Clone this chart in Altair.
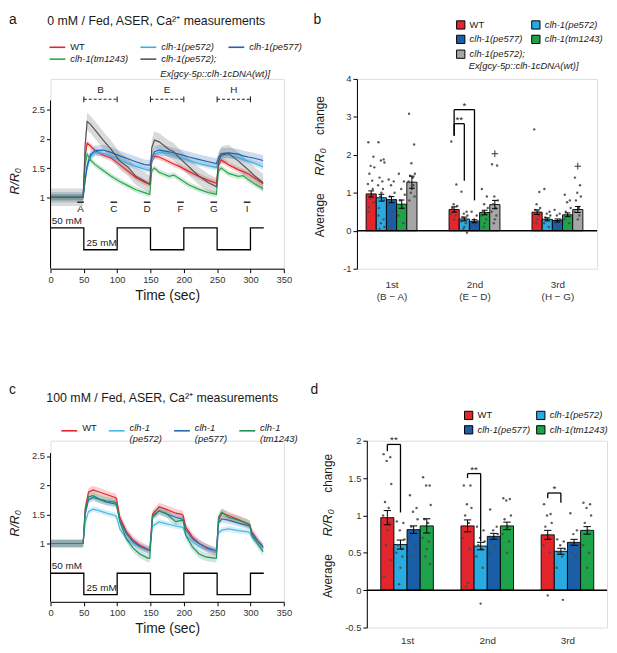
import json
import altair as alt
import pandas as pd

FONT = "Liberation Sans"
INK = "#1a1a1a"
LAB = "#333333"

# ======================= DATA =======================
TITLE_A = "0 mM / Fed, ASER, Ca²⁺ measurements"
TITLE_C = "100 mM / Fed, ASER, Ca²⁺ measurements"
RESCUE_LINE2 = "Ex[gcy-5p::clh-1cDNA(wt)]"
BAR_YTITLE = ["Average", "R/R₀", "change"]

# ---- panel a : 0 mM traces (R/R0) ----
A_SERIES = ["WT", "clh-1(pe572)", "clh-1(pe577)", "clh-1(tm1243)", "clh-1(pe572);"]
A_COLORS = ["#e3262b", "#3aaee3", "#1f62b0", "#2aa64c", "#555555"]
A_SEM = [0.05, 0.05, 0.09, 0.05, 0.15]
A_TIME = [0, 15, 30, 45, 49, 52, 55, 60, 67, 79, 91, 104, 116, 128, 141, 149, 152, 156, 163, 178,
          185, 193, 208, 222, 237, 249, 252, 256, 267, 282, 289, 297, 306, 319]
A_WT = [1.0, 1.0, 1.0, 1.0, 1.0, 1.70, 1.93, 1.88, 1.80, 1.72, 1.67, 1.56, 1.45, 1.34, 1.26, 1.22, 1.62,
        1.70, 1.69, 1.61, 1.57, 1.53, 1.44, 1.36, 1.29, 1.24, 1.55, 1.64, 1.56, 1.47, 1.44, 1.40, 1.33, 1.23]
A_PE572 = [1.0, 1.0, 1.0, 1.0, 1.0, 1.30, 1.50, 1.70, 1.77, 1.75, 1.71, 1.64, 1.58, 1.53, 1.48, 1.46, 1.62,
           1.74, 1.77, 1.75, 1.72, 1.69, 1.63, 1.58, 1.54, 1.51, 1.62, 1.71, 1.73, 1.68, 1.65, 1.62, 1.58, 1.52]
A_PE577 = [1.0, 1.0, 1.0, 1.0, 1.0, 1.30, 1.55, 1.73, 1.80, 1.81, 1.77, 1.71, 1.66, 1.61, 1.56, 1.55, 1.68,
           1.78, 1.81, 1.78, 1.76, 1.74, 1.69, 1.65, 1.61, 1.58, 1.68, 1.75, 1.76, 1.74, 1.71, 1.69, 1.67, 1.63]
A_TM1243 = [1.0, 1.0, 1.0, 1.0, 1.0, 1.55, 1.74, 1.64, 1.56, 1.46, 1.36, 1.27, 1.20, 1.13, 1.08, 1.05, 1.46,
            1.50, 1.43, 1.36, 1.38, 1.32, 1.21, 1.14, 1.08, 1.05, 1.45, 1.50, 1.41, 1.36, 1.37, 1.30, 1.23, 1.15]
A_RESCUE = [1.0, 1.0, 1.0, 1.0, 1.0, 1.90, 2.30, 2.25, 2.15, 1.98, 1.82, 1.62, 1.52, 1.36, 1.28, 1.22, 1.85,
            1.98, 1.95, 1.82, 1.78, 1.68, 1.52, 1.37, 1.25, 1.18, 1.60, 1.72, 1.75, 1.62, 1.55, 1.47, 1.37, 1.25]
A_VALUES = [A_WT, A_PE572, A_PE577, A_TM1243, A_RESCUE]

# ---- panel c : 100 mM traces (R/R0) ----
C_SERIES = ["WT", "clh-1|(pe572)", "clh-1|(pe577)", "clh-1|(tm1243)"]
C_COLORS = ["#e3262b", "#4db7e8", "#2a6cb0", "#23915a"]
C_SEM = [0.07, 0.05, 0.06, 0.07]
C_TIME = [0, 15, 30, 45, 49, 52, 57, 64, 74, 84, 97, 99, 104, 114, 124, 134, 146, 149, 153, 163,
          173, 188, 197, 199, 203, 213, 223, 233, 245, 249, 252, 257, 267, 282, 296, 299, 302, 312, 319]
C_WT = [1.0, 1.0, 1.0, 1.0, 1.0, 1.60, 1.88, 1.92, 1.88, 1.84, 1.79, 1.77, 1.45, 1.20, 1.06, 0.97, 0.90,
        0.89, 1.50, 1.63, 1.59, 1.52, 1.50, 1.48, 1.28, 1.11, 1.00, 0.93, 0.86, 0.85, 1.40, 1.52, 1.48,
        1.41, 1.34, 1.32, 1.20, 1.03, 0.93]
C_PE572 = [1.0, 1.0, 1.0, 1.0, 1.0, 1.35, 1.55, 1.59, 1.56, 1.52, 1.48, 1.46, 1.25, 1.08, 1.00, 0.94, 0.89,
           0.88, 1.30, 1.37, 1.34, 1.30, 1.28, 1.27, 1.14, 1.03, 0.95, 0.90, 0.86, 0.85, 1.18, 1.23, 1.25,
           1.22, 1.20, 1.19, 1.11, 1.00, 0.92]
C_PE577 = [1.0, 1.0, 1.0, 1.0, 1.0, 1.50, 1.75, 1.79, 1.75, 1.71, 1.68, 1.66, 1.40, 1.17, 1.03, 0.95, 0.89,
           0.88, 1.45, 1.56, 1.51, 1.45, 1.42, 1.41, 1.23, 1.08, 1.00, 0.94, 0.89, 0.88, 1.35, 1.42, 1.40,
           1.35, 1.31, 1.30, 1.17, 1.03, 0.94]
C_TM1243 = [1.0, 1.0, 1.0, 1.0, 1.0, 1.55, 1.80, 1.82, 1.76, 1.73, 1.71, 1.69, 1.37, 1.08, 0.92, 0.82, 0.75,
            0.75, 1.48, 1.56, 1.52, 1.37, 1.40, 1.39, 1.14, 0.94, 0.82, 0.77, 0.75, 0.75, 1.45, 1.54, 1.45,
            1.40, 1.34, 1.32, 1.14, 0.97, 0.86]
C_VALUES = [C_WT, C_PE572, C_PE577, C_TM1243]

# ---- stimulus (mM NaCl) ----
STIM_TIME = [0, 50, 100, 150, 200, 250, 300, 320]
STIM_MM = [50, 25, 50, 25, 50, 25, 50, 50]

# ---- analysis windows of panel a ----
WIN_LABEL = ["A", "C", "D", "F", "G", "I"]
WIN_START = [40, 90, 140, 190, 240, 290]
WIN_END = [50, 100, 150, 200, 250, 300]
PEAK_LABEL = ["B", "E", "H"]
PEAK_START = [50, 150, 250]
PEAK_END = [100, 200, 300]

# ---- panel b : average R/R0 change, 0 mM ----
B_SERIES = ["WT", "clh-1(pe572)", "clh-1(pe577)", "clh-1(tm1243)", "clh-1(pe572);"]
B_COLORS = ["#e3262b", "#29abe2", "#1b5ea8", "#1fa34a", "#a6a6a6"]
B_GROUPS = ["1st|(B − A)", "2nd|(E − D)", "3rd|(H − G)"]
B_MEAN = [[0.97, 0.56, 0.49], [0.87, 0.31, 0.30], [0.82, 0.25, 0.27], [0.70, 0.48, 0.42], [1.28, 0.69, 0.56]]
B_SEM = [[0.08, 0.07, 0.06], [0.09, 0.05, 0.04], [0.08, 0.04, 0.04], [0.11, 0.06, 0.05], [0.16, 0.11, 0.08]]
B_DOTS = [
    [[2.33, 1.95, 1.71, 1.67, 1.50, 1.32, 1.23, 1.10, 0.97, 0.85, 0.75, 0.62, 0.50],
     [2.35, 1.22, 0.70, 0.65, 0.60, 0.52, 0.45, 0.40, 0.30],
     [2.67, 1.02, 0.70, 0.60, 0.55, 0.50, 0.45, 0.40, 0.30, 0.20]],
    [[2.33, 1.88, 1.85, 1.80, 1.40, 1.30, 1.20, 1.10, 1.00, 0.90, 0.80, 0.60, 0.40, 0.30, 0.20, 0.10, 0.05],
     [1.03, 0.50, 0.45, 0.40, 0.35, 0.30, 0.25, 0.20, 0.10, 0.05, -0.05],
     [1.10, 0.50, 0.45, 0.40, 0.35, 0.30, 0.20, 0.10]],
    [[1.35, 1.30, 1.20, 1.00, 0.90, 0.80, 0.70, 0.50, 0.30, 0.10],
     [0.50, 0.40, 0.30, 0.25, 0.20, 0.15, 0.10],
     [0.55, 0.45, 0.40, 0.30, 0.20, 0.10]],
    [[1.50, 1.30, 1.10, 0.95, 0.80, 0.60, 0.40, 0.20],
     [1.10, 0.90, 0.70, 0.60, 0.50, 0.45, 0.40, 0.30, 0.20, 0.10],
     [0.95, 0.80, 0.75, 0.60, 0.50, 0.40, 0.30, 0.20]],
    [[3.08, 2.27, 1.78, 1.50, 1.45, 1.40, 1.30, 1.20, 1.10, 1.00, 0.90, 0.80],
     [1.75, 1.72, 0.90, 0.80, 0.70, 0.60, 0.50, 0.40, 0.30, 0.20],
     [1.40, 1.20, 1.00, 0.90, 0.80, 0.60, 0.50, 0.40, 0.30]],
]
B_PLUS = [(4, 1, 2.03), (4, 2, 1.70)]            # (series, group, value) outliers drawn as "+"
B_SIG = [(1, 0, 1, 2.82, 2.50, 1.32, "**"),      # (group, from, to, top, left end, right end, label)
         (1, 0, 2, 3.19, 2.50, 0.80, "*")]

# ---- panel d : average R/R0 change, 100 mM ----
D_SERIES = ["WT", "clh-1(pe572)", "clh-1(pe577)", "clh-1(tm1243)"]
D_COLORS = ["#e3262b", "#29abe2", "#1b5ea8", "#1fa34a"]
D_GROUPS = ["1st", "2nd", "3rd"]
D_MEAN = [[0.97, 0.86, 0.74], [0.61, 0.59, 0.52], [0.81, 0.72, 0.64], [0.86, 0.86, 0.80]]
D_SEM = [[0.095, 0.08, 0.06], [0.06, 0.05, 0.04], [0.05, 0.04, 0.04], [0.095, 0.05, 0.05]]
D_DOTS = [
    [[1.82, 1.78, 1.73, 1.42, 1.18, 1.10, 1.00, 0.90, 0.80, 0.60, 0.40, 0.18],
     [1.40, 1.40, 1.15, 1.10, 1.00, 0.90, 0.70, 0.55, 0.10, 0.05],
     [1.15, 1.02, 1.00, 0.90, 0.85, 0.70, 0.60, 0.50, -0.07]],
    [[0.92, 0.90, 0.80, 0.68, 0.60, 0.55, 0.50, 0.45, 0.30, 0.08],
     [0.85, 0.80, 0.70, 0.65, 0.60, 0.55, 0.45, 0.30, -0.18],
     [0.68, 0.65, 0.60, 0.55, 0.50, 0.45, 0.30, -0.13]],
    [[1.27, 1.10, 1.05, 0.95, 0.85, 0.80, 0.70, 0.60, 0.45],
     [1.08, 0.85, 0.80, 0.75, 0.70, 0.60, 0.50],
     [1.03, 0.80, 0.75, 0.60, 0.50, 0.45, 0.30]],
    [[1.51, 1.40, 1.40, 1.14, 0.95, 0.90, 0.70, 0.65, 0.55, 0.45, 0.35],
     [1.23, 1.22, 1.20, 1.00, 0.95, 0.85, 0.75, 0.65, 0.50],
     [1.17, 1.15, 1.10, 1.00, 0.90, 0.80, 0.60, 0.50, 0.30]],
]
D_PLUS = []
D_SIG = [(0, 0, 1, 1.95, 1.86, 1.04, "**"),
         (1, 0, 1, 1.56, 1.50, 0.65, "**"),
         (2, 0, 1, 1.30, 1.23, 1.17, "*")]

# ======================= STYLE / LAYOUT =======================
JITTER = [-0.28, 0.22, -0.05, 0.30, -0.18, 0.10, -0.32, 0.15, 0.0, -0.10, 0.26, -0.24]
NUM_FMT = "datum.value < 0 ? '-' + format(-datum.value, '~g') : format(datum.value, '~g')"
STYLE_EXPR = {"expr": "datum.label == 'WT' ? 'normal' : 'italic'"}


def txt(label, x, y, size=9.5, align="left", baseline="middle", style="normal", angle=0):
    return alt.Chart(pd.DataFrame({"l": [label]})).mark_text(
        font=FONT, fontSize=size, align=align, baseline=baseline, fontStyle=style, color=INK, angle=angle
    ).encode(text="l:N", x=alt.value(x), y=alt.value(y))


def time_x(field):
    return alt.X(f"{field}:Q", scale=alt.Scale(domain=[0, 350], nice=False, zero=False),
                 axis=alt.Axis(values=list(range(0, 351, 50)), title="Time (sec)", titleFont=FONT,
                               titleFontSize=14, titleFontWeight="normal", titleColor=INK, titlePadding=5,
                               labelFont=FONT, labelFontSize=9.5, labelColor=LAB, labelPadding=2,
                               tickSize=4, tickColor="black", domainColor="black", grid=False,
                               labelFlush=False, labelOverlap=False))


def ratio_y(field, ydom, title_y):
    return alt.Y(f"{field}:Q", scale=alt.Scale(domain=ydom, nice=False, zero=False),
                 axis=alt.Axis(values=[1, 1.5, 2, 2.5], labelExpr=NUM_FMT, domain=False, title="R/R₀",
                               titleFont=FONT, titleFontStyle="italic", titleFontSize=12.5,
                               titleFontWeight="normal", titleColor=INK, titlePadding=10, titleY=title_y,
                               labelFont=FONT, labelFontSize=9.5, labelColor=LAB, labelPadding=2,
                               tickSize=4, tickColor="black", grid=False))


def trace_panel(series, colors, sems, times, values, ydom, axis_top, stim_y, mm_pos,
                legend, title_y, windows):
    rows = []
    for s, sem, vals in zip(series, sems, values):
        for t, v in zip(times, vals):
            rows.append(dict(s=s, t=t, v=v, lo=v - sem, hi=v + sem))
    df = pd.DataFrame(rows)
    X = lambda f: time_x(f)
    Y = lambda f: ratio_y(f, ydom, title_y)
    col = alt.Color("s:N", scale=alt.Scale(domain=series, range=colors), legend=legend)

    layers = []
    for s, c in zip(series, colors):
        layers.append(alt.Chart(df[df.s == s]).mark_area(opacity=0.22, color=c)
                      .encode(x=X("t"), y=Y("lo"), y2="hi:Q"))
    layers.append(alt.Chart(df).mark_line(strokeWidth=1.2).encode(x=X("t"), y=Y("v"), color=col))
    stim_df = pd.DataFrame({"t": STIM_TIME, "y": [stim_y[m] for m in STIM_MM]})
    layers.append(alt.Chart(stim_df).mark_line(interpolate="step-after", color="black", strokeWidth=1.3)
                  .encode(x=X("t"), y=Y("y")))
    ax_df = pd.DataFrame({"y0": [ydom[0]], "y1": [axis_top]})
    layers.append(alt.Chart(ax_df).mark_rule(color="black", strokeWidth=1)
                  .encode(x=alt.value(0), y=Y("y0"), y2="y1:Q"))
    mm_df = pd.DataFrame({"t": [p[0] for p in mm_pos], "y": [p[1] for p in mm_pos],
                          "l": [f"{STIM_MM[0]} mM", f"{STIM_MM[1]} mM"]})
    layers.append(alt.Chart(mm_df).mark_text(font=FONT, fontSize=10, align="left", color=INK)
                  .encode(x=X("t"), y=Y("y"), text="l:N"))
    if windows:
        w_df = pd.DataFrame({"t0": WIN_START, "t1": WIN_END, "y": [0.915] * len(WIN_START),
                             "tm": [(a + b) / 2 for a, b in zip(WIN_START, WIN_END)],
                             "ly": [0.80] * len(WIN_START), "l": WIN_LABEL})
        layers.append(alt.Chart(w_df).mark_rule(color="#333333", strokeWidth=1.6)
                      .encode(x=X("t0"), x2="t1:Q", y=Y("y")))
        layers.append(alt.Chart(w_df).mark_text(font=FONT, fontSize=10, color=INK)
                      .encode(x=X("tm"), y=Y("ly"), text="l:N"))
        p_df = pd.DataFrame({"t0": PEAK_START, "t1": PEAK_END, "y": [2.68] * 3,
                             "tm": [(a + b) / 2 for a, b in zip(PEAK_START, PEAK_END)],
                             "ly": [2.84] * 3, "l": PEAK_LABEL})
        layers.append(alt.Chart(p_df).mark_rule(color="#222222", strokeWidth=1.1, strokeDash=[3, 2])
                      .encode(x=X("t0"), x2="t1:Q", y=Y("y")))
        cap_df = pd.DataFrame({"t": PEAK_START + PEAK_END, "y0": [2.63] * 6, "y1": [2.73] * 6})
        layers.append(alt.Chart(cap_df).mark_rule(color="#222222", strokeWidth=1.1)
                      .encode(x=X("t"), y=Y("y0"), y2="y1:Q"))
        layers.append(alt.Chart(p_df).mark_text(font=FONT, fontSize=10, color=INK)
                      .encode(x=X("tm"), y=Y("ly"), text="l:N"))
    return layers


def bar_panel(series, colors, groups, means, sems, dots, plus, sigs, gap, xdom, ydom, yticks,
              legend, label_pad, title_x, title_ys):
    n = len(series)
    pos = lambda g, s: g * gap + (s - (n - 1) / 2)
    label_expr = f"split({json.dumps(groups, ensure_ascii=False)}[round(datum.value / {gap})], '|')"
    plus_h = (ydom[1] - ydom[0]) * 0.018

    def X(f):
        return alt.X(f"{f}:Q", scale=alt.Scale(domain=xdom, nice=False, zero=False),
                     axis=alt.Axis(values=[g * gap for g in range(len(groups))], labelExpr=label_expr,
                                   domain=False, ticks=False, grid=False, title=None, labelFont=FONT,
                                   labelFontSize=10, labelColor=LAB, labelPadding=label_pad,
                                   labelLineHeight=12, labelFlush=False, labelOverlap=False,
                                   labelBaseline="top"))

    def Y(f):
        return alt.Y(f"{f}:Q", scale=alt.Scale(domain=ydom, nice=False, zero=False),
                     axis=alt.Axis(values=yticks, labelExpr=NUM_FMT, title=None, labelFont=FONT,
                                   labelFontSize=9.5, labelColor=LAB, labelPadding=2, tickSize=4,
                                   tickColor="black", domainColor="black", grid=False))

    bars, dts, caps = [], [], []
    for si, s in enumerate(series):
        for gi in range(len(groups)):
            p = pos(gi, si)
            m, e = means[si][gi], sems[si][gi]
            bars.append(dict(s=s, p=p, x0=p - 0.5, x1=p + 0.5, m=m, lo=m - e, hi=m + e))
            caps += [dict(c0=p - 0.28, c1=p + 0.28, y=m - e), dict(c0=p - 0.28, c1=p + 0.28, y=m + e)]
            for k, v in enumerate(dots[si][gi]):
                dts.append(dict(p=p + JITTER[k % len(JITTER)], v=v))
    bars, dts, caps = pd.DataFrame(bars), pd.DataFrame(dts), pd.DataFrame(caps)
    fil = alt.Fill("s:N", scale=alt.Scale(domain=series, range=colors), legend=legend)

    layers = [
        alt.Chart(bars).mark_rect(stroke="black", strokeWidth=0.9)
        .encode(x=X("x0"), x2="x1:Q", y=Y("m"), y2=alt.datum(0), fill=fil),
        alt.Chart(dts).mark_circle(size=6, color="#4a4a4a", opacity=0.9).encode(x=X("p"), y=Y("v")),
        alt.Chart(bars).mark_rule(color="black", strokeWidth=1).encode(x=X("p"), y=Y("lo"), y2="hi:Q"),
        alt.Chart(caps).mark_rule(color="black", strokeWidth=1).encode(x=X("c0"), x2="c1:Q", y=Y("y")),
        alt.Chart(pd.DataFrame({"z": [0]})).mark_rule(color="black", strokeWidth=1.5).encode(y=Y("z")),
    ]
    if plus:
        segs = []
        for s, g, v in plus:
            p = pos(g, s)
            segs += [dict(x0=p - 0.32, x1=p + 0.32, y0=v, y1=v),
                     dict(x0=p, x1=p, y0=v - plus_h, y1=v + plus_h)]
        layers.append(alt.Chart(pd.DataFrame(segs)).mark_rule(color="#333333", strokeWidth=1)
                      .encode(x=X("x0"), x2="x1:Q", y=Y("y0"), y2="y1:Q"))
    seg, lab = [], []
    for g, a, b, top, lb, rb, l in sigs:
        pa, pb = pos(g, a), pos(g, b)
        seg += [dict(x0=pa, x1=pb, y0=top, y1=top), dict(x0=pa, x1=pa, y0=top, y1=lb),
                dict(x0=pb, x1=pb, y0=top, y1=rb)]
        lab.append(dict(x=(pa + pb) / 2, y=top, l=l))
    layers.append(alt.Chart(pd.DataFrame(seg)).mark_rule(color="black", strokeWidth=1.3)
                  .encode(x=X("x0"), x2="x1:Q", y=Y("y0"), y2="y1:Q"))
    layers.append(alt.Chart(pd.DataFrame(lab)).mark_text(font=FONT, fontSize=10, baseline="bottom", dy=1,
                                                         color=INK)
                  .encode(x=X("x"), y=Y("y"), text="l:N"))
    # y-axis title in three pieces so that R/R0 can be italic
    for word, ty, style, size in zip(BAR_YTITLE, title_ys, ["normal", "italic", "normal"], [12, 13, 12]):
        layers.append(txt(word, title_x, ty, size=size, align="center", style=style, angle=270))
    return layers


def legend(x, y, columns, symbol, **kw):
    p = dict(title=None, orient="none", legendX=x, legendY=y, columns=columns, symbolType=symbol,
             direction="horizontal", labelFont=FONT, labelFontSize=9.5, labelColor=INK,
             labelFontStyle=STYLE_EXPR, labelLimit=400)
    p.update(kw)
    return alt.Legend(**p)


# ----- panel a -----
A_YDOM = [-0.225, 3.03]
leg_a = legend(-2, -41, 3, "stroke", gridAlign="none", symbolSize=256, symbolStrokeWidth=1.6,
               columnPadding=8, rowPadding=-2, labelOffset=4)
a_layers = trace_panel(A_SERIES, A_COLORS, A_SEM, A_TIME, A_VALUES, A_YDOM, 2.66,
                       {50: 0.475, 25: 0.10}, [(2, 0.59), (54, 0.22)], leg_a, 103, True)
a_layers += [txt("a", -42, -67, size=14, baseline="top"),
             txt(TITLE_A, 107, -59, size=12.5, align="center"),
             txt(RESCUE_LINE2, 111, -5, style="italic")]
panel_a = alt.layer(*a_layers).properties(width=236, height=192)

# ----- panel b -----
leg_b = legend(100, -60, 2, "square", symbolSize=70, symbolStrokeColor="black", symbolStrokeWidth=1,
               symbolOpacity=1, columnPadding=4, rowPadding=1, labelOffset=4, gridAlign="each")
b_layers = bar_panel(B_SERIES, B_COLORS, B_GROUPS, B_MEAN, B_SEM, B_DOTS, B_PLUS, B_SIG, 8.15,
                     [-3.4, 20.2], [-1, 4], [-1, 0, 1, 2, 3, 4], leg_b, 11, -37, [138, 84, 37])
b_layers += [txt("b", -44, -67, size=14, baseline="top"),
             txt(RESCUE_LINE2, 113, -13, style="italic")]
panel_b = alt.layer(*b_layers).properties(width=243, height=192)

# ----- panel c -----
C_YDOM = [0.0, 2.763]
leg_c = legend(10, -19, 4, "stroke", gridAlign="none", symbolSize=256, symbolStrokeWidth=1.6,
               columnPadding=8, labelOffset=4, labelExpr="split(datum.label, '|')",
               labelBaseline="alphabetic")
c_layers = trace_panel(C_SERIES, C_COLORS, C_SEM, C_TIME, C_VALUES, C_YDOM, 2.55,
                       {50: 0.49, 25: 0.125}, [(2, 0.61), (54, 0.23)], leg_c, 83, False)
c_layers += [txt("c", -42, -58, size=14, baseline="top"),
             txt(TITLE_C, 113, -43, size=12.5, align="center")]
panel_c = alt.layer(*c_layers).properties(width=236, height=163)

# ----- panel d -----
leg_d = legend(98, -31, 2, "square", symbolSize=70, symbolStrokeColor="black", symbolStrokeWidth=1,
               symbolOpacity=1, columnPadding=3, rowPadding=1, labelOffset=4, gridAlign="each")
d_layers = bar_panel(D_SERIES, D_COLORS, D_GROUPS, D_MEAN, D_SEM, D_DOTS, D_PLUS, D_SIG, 6.1,
                     [-3.06, 15.21], [-0.5, 2], [-0.5, 0, 0.5, 1, 1.5, 2], leg_d, 8, -39, [137, 83, 33])
d_layers += [txt("d", -57, -58, size=14, baseline="top")]
panel_d = alt.layer(*d_layers).properties(width=243, height=189)

row1 = alt.hconcat(panel_a, panel_b, spacing=74, bounds="flush").resolve_scale(
    color="independent", fill="independent", x="independent", y="independent")
row2 = alt.hconcat(panel_c, panel_d, spacing=84, bounds="flush").resolve_scale(
    color="independent", fill="independent", x="independent", y="independent")
chart = alt.vconcat(row1, row2, spacing=366, bounds="flush").resolve_scale(
    color="independent", fill="independent", x="independent", y="independent"
).properties(padding=0).configure_view(stroke=None).configure(font=FONT)

chart.save("out.html", embed_options={"renderer": "svg", "actions": False})
